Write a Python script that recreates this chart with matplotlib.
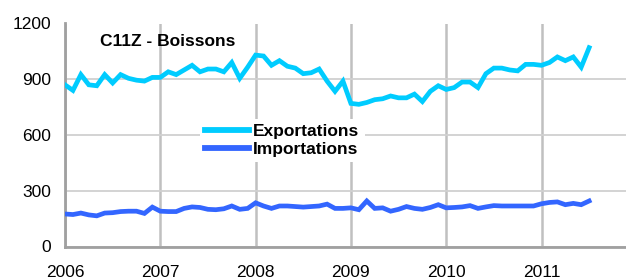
import matplotlib
matplotlib.use("Agg")
import matplotlib.pyplot as plt
import numpy as np

plt.rcParams['font.family'] = ['Liberation Sans', 'DejaVu Sans']

start_year = 2006
exportations = [
    870, 840, 925, 870, 865, 925, 880, 925, 905, 895, 890, 910,
    910, 940, 925, 950, 975, 940, 955, 955, 940, 990, 905, 965,
    1030, 1025, 975, 1000, 970, 960, 930, 935, 955, 890, 835, 890,
    770, 765, 775, 790, 795, 810, 800, 800, 820, 780, 835, 865,
    845, 855, 885, 885, 855, 930, 960, 960, 950, 945, 980, 980,
    975, 990, 1020, 1000, 1020, 965, 1070,
]
importations = [
    175, 172, 180, 170, 165, 180, 182, 188, 190, 190, 178, 212,
    190, 188, 188, 205, 213, 210, 200, 198, 203, 218, 200, 205,
    235, 218, 205, 218, 218, 215, 212, 215, 218, 228, 205, 205,
    208, 198, 245, 205, 208, 190, 200, 215, 205, 200, 210, 225,
    208, 210, 213, 220, 205, 213, 220, 218, 218, 218, 218, 218,
    230, 237, 240, 225, 232, 225, 245,
]
year_ticks = [2006, 2007, 2008, 2009, 2010, 2011]
y_ticks = [0, 300, 600, 900, 1200]
title = "C11Z - Boissons"
labels = ["Exportations", "Importations"]

x = start_year + np.arange(len(exportations)) / 12.0

fig = plt.figure(figsize=(6.26, 2.8), dpi=100)
ax = fig.add_axes([65/626, 1 - 246.5/280, 1 - 65/626, (246.5 - 23.5)/280])

ax.plot(x, exportations, color='#00CCFF', lw=3.4, label=labels[0], solid_joinstyle='miter', zorder=3)
ax.plot(x, importations, color='#3366FF', lw=3.4, label=labels[1], solid_joinstyle='miter', zorder=3)

ax.set_xlim(2006, 2006 + 561/95.3)
ax.set_ylim(0, 1200)
ax.set_xticks(year_ticks)
ax.set_yticks(y_ticks)
ax.set_xticklabels([str(y) for y in year_ticks], fontsize=12.5)
ax.set_yticklabels([str(v) for v in y_ticks], fontsize=12.5)

ax.xaxis.grid(True, color='#c0c0c0', lw=1.8, zorder=0)
ax.yaxis.grid(True, color='#d0d0d0', lw=1.3, zorder=0)
ax.set_axisbelow(True)
ax.tick_params(axis='x', length=0, pad=13)
ax.tick_params(axis='y', length=0, pad=10)

for s in ['top', 'right']:
    ax.spines[s].set_visible(False)
ax.spines['left'].set_color('#a0a0a0')
ax.spines['left'].set_linewidth(2)
ax.spines['bottom'].set_color('#a0a0a0')
ax.spines['bottom'].set_linewidth(2)

ax.text(0.062, 0.918, title, transform=ax.transAxes, fontsize=12.5, fontweight='bold',
        ha='left', va='center')

leg = ax.legend(loc='upper left', bbox_to_anchor=(0.241, 0.572), frameon=True,
                fancybox=False, edgecolor='none', facecolor='white', framealpha=1,
                prop={'weight': 'bold', 'size': 12.5}, handlelength=2.5,
                handletextpad=0.25, labelspacing=0.16, borderpad=0.3, borderaxespad=0)
for h in leg.get_lines():
    h.set_linewidth(4.2)

fig.savefig('out.png', dpi=100)
